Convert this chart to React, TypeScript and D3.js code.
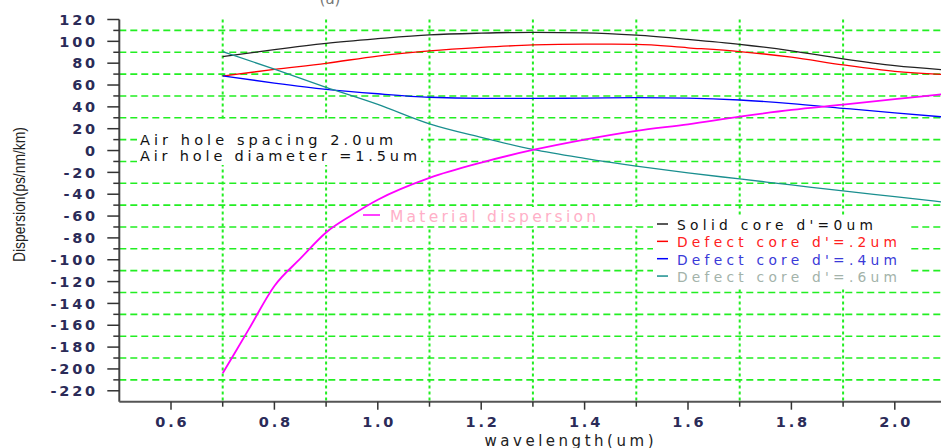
import * as d3 from 'd3';

// wavelength samples (um)
const wavelengths = [0.7, 0.8, 0.9, 1.0, 1.1, 1.2, 1.3, 1.4, 1.5, 1.6, 1.7, 1.8, 1.9, 2.0, 2.1];
const solidCore = [86, 92.5, 98.2, 102.4, 105.9, 107.5, 108.3, 107.8, 105.6, 101.8, 97.3, 91.3, 84, 77.8, 73.8];
const defect02 = [68.3, 74.3, 79.9, 86.5, 91.2, 94.4, 96.7, 97.4, 97.3, 94.1, 90.6, 85.5, 78.4, 72.5, 69.6];
const defect04 = [68.3, 61.8, 56.1, 52, 48.8, 47.8, 47.8, 48, 48.4, 48, 46.3, 43, 38.7, 34.5, 30.5];
const defect06 = [90.6, 74.5, 57.9, 42.2, 24.4, 12, 1, -7.2, -14.3, -20.5, -26, -31.5, -37, -42.2, -47.5];

const matWavelengths = [0.7, 0.75, 0.8, 0.85, 0.9, 0.95, 1.0, 1.1, 1.2, 1.3, 1.4, 1.5, 1.6, 1.7, 1.8, 1.9, 2.0, 2.1];
const materialDisp = [-204, -164, -124, -99, -75, -59, -45, -25, -11, 0.5, 10, 18, 24, 31, 37.2, 42, 47, 52];

const seriesNames = ["Solid core d'=0um", "Defect core d'=.2um", "Defect core d'=.4um", "Defect core d'=.6um"];
const seriesValues = [solidCore, defect02, defect04, defect06];
const seriesColors = ['#222222', '#ff0000', '#0000ff', '#1a8f8f'];
const legendTextColors = ['#111111', '#ff2020', '#3a3ad8', '#a3b3aa'];

const yMajor = d3.range(-220, 121, 20);
const yMinor = d3.range(-210, 111, 20);
const xMajor = [0.6, 0.8, 1.0, 1.2, 1.4, 1.6, 1.8, 2.0];
const xMinor = [0.7, 0.9, 1.1, 1.3, 1.5, 1.7, 1.9];

export default function App() {
  const width = 941;
  const height = 448;
  const left = 119.3;
  const top = 19.5;
  const bottom = 401.7;

  const x = d3.scaleLinear().domain([0.5, 2.1]).range([left, left + 1.6 * 517]);
  const y = d3.scaleLinear().domain([-230, 120]).range([bottom, top]);

  const line = d3.line<[number, number]>()
    .x(d => x(d[0]))
    .y(d => y(d[1]))
    .curve(d3.curveMonotoneX);

  const green = '#22ee22';
  const tickFont = { fontFamily: 'DejaVu Sans, sans-serif', fontWeight: 700, fontSize: 14.5, letterSpacing: '2.8px', fill: '#2b2b58' };
  const textFont = { fontFamily: 'DejaVu Sans, sans-serif' };

  return (
    <svg width={width} height={height} style={{ position: 'absolute', left: 0, top: 0, background: '#fff' }}>
      {/* title, mostly cut off by the frame */}
      <text x={330} y={4} textAnchor="middle" fontSize={15} style={textFont} fill="#777">(a)</text>

      {/* grid */}
      {yMinor.map(v => (
        <line key={'hg' + v} x1={left} x2={width} y1={y(v)} y2={y(v)}
          stroke={green} strokeWidth={1.6} strokeDasharray="7,4" />
      ))}
      {xMinor.map(v => (
        <line key={'vg' + v} x1={x(v)} x2={x(v)} y1={top} y2={bottom}
          stroke={green} strokeWidth={2} strokeDasharray="3,3" />
      ))}

      {/* boxes behind annotations */}
      <rect x={137} y={120} width={284} height={45} fill="#fff" />
      <rect x={360} y={207} width={285} height={19} fill="#fff" />
      <rect x={653} y={215} width={255} height={72} fill="#fff" />

      {/* curves */}
      {seriesValues.map((vals, i) => (
        <path key={seriesNames[i]}
          d={line(wavelengths.map((w, j) => [w, vals[j]] as [number, number])) || ''}
          fill="none" stroke={seriesColors[i]} strokeWidth={1.3} />
      ))}
      <path d={line(matWavelengths.map((w, j) => [w, materialDisp[j]] as [number, number])) || ''}
        fill="none" stroke="#ff00ff" strokeWidth={1.8} />

      {/* axes */}
      <line x1={left} x2={left} y1={top} y2={bottom} stroke="#444" strokeWidth={2} />
      <line x1={left} x2={width} y1={bottom} y2={bottom} stroke="#555" strokeWidth={2} />
      {yMajor.map(v => (
        <g key={'ym' + v}>
          <line x1={left - 12} x2={left} y1={y(v)} y2={y(v)} stroke="#333" strokeWidth={1.5} />
          <text x={98} y={y(v)} dy="0.36em" textAnchor="end" style={tickFont}>{v}</text>
        </g>
      ))}
      {yMinor.map(v => (
        <line key={'yn' + v} x1={left - 6} x2={left} y1={y(v)} y2={y(v)} stroke="#333" strokeWidth={1.5} />
      ))}
      {xMajor.map(v => (
        <g key={'xm' + v}>
          <line x1={x(v)} x2={x(v)} y1={bottom} y2={bottom + 8} stroke="#333" strokeWidth={1.5} />
          <text x={x(v) + 1.4} y={427} textAnchor="middle" style={tickFont}>{v.toFixed(1)}</text>
        </g>
      ))}
      {xMinor.map(v => (
        <line key={'xn' + v} x1={x(v)} x2={x(v)} y1={bottom} y2={bottom + 5} stroke="#333" strokeWidth={1.5} />
      ))}

      {/* axis titles */}
      <text x={569} y={445.5} textAnchor="middle" fontSize={15} style={textFont} fill="#222"
        textLength={169}>wavelength(um)</text>
      <text transform="translate(25,194.5) rotate(-90)" textAnchor="middle" fontSize={16}
        style={{ fontFamily: 'Liberation Sans, Arial, sans-serif' }} fill="#222" textLength={135}
        lengthAdjust="spacingAndGlyphs">Dispersion(ps/nm/km)</text>

      {/* annotation */}
      <text x={140} y={145} fontSize={14.5} style={textFont} fill="#111" textLength={253}>Air hole spacing 2.0um</text>
      <text x={140} y={161} fontSize={14.5} style={textFont} fill="#111" textLength={277}>Air hole diameter =1.5um</text>

      {/* material dispersion legend */}
      <line x1={363} x2={380} y1={215} y2={215} stroke="#ff00ff" strokeWidth={1.5} />
      <text x={390} y={221.7} fontSize={15.5} style={textFont} fill="#ffb0c8" textLength={206}>Material dispersion</text>

      {/* series legend */}
      {seriesNames.map((name, i) => {
        const by = 230 + i * 17.35;
        return (
          <g key={'lg' + i}>
            <line x1={657} x2={668} y1={by - 6} y2={by - 6} stroke={seriesColors[i]} strokeWidth={1.5} />
            <text x={677} y={by} fontSize={13.8} style={textFont} fill={legendTextColors[i]}
              textLength={i === 0 ? 196 : 220}>{name}</text>
          </g>
        );
      })}
    </svg>
  );
}
